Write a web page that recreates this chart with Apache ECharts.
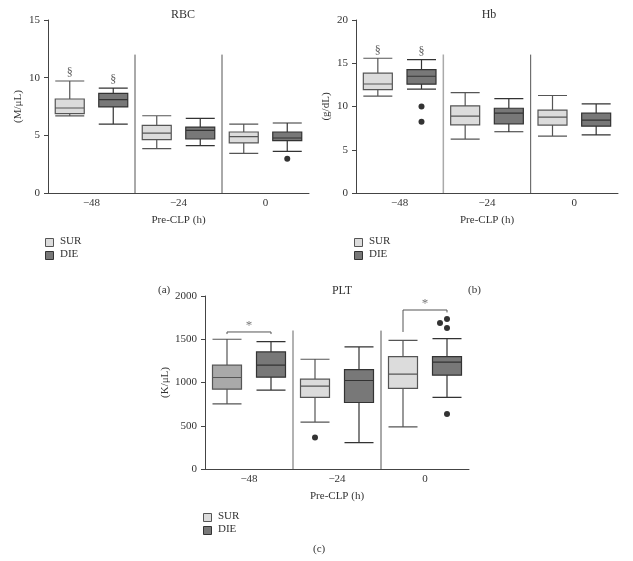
<!DOCTYPE html>
<html>
<head>
<meta charset="utf-8">
<script src="https://cdn.jsdelivr.net/npm/echarts@6/dist/echarts.min.js"></script>
<style>html,body{margin:0;padding:0;background:#fff}#c{width:633px;height:561px}</style>
</head>
<body>
<div id="c"></div>
<script>
// ---------- data ----------
const categories = ['\u221248', '\u221224', '0'];
const groups = ['SUR', 'DIE'];
// box stats: [min, Q1, median, Q3, max] per category
const rbcSUR = [[6.68, 6.88, 7.37, 8.15, 9.71], [3.84, 4.62, 5.20, 5.87, 6.70], [3.44, 4.34, 4.88, 5.29, 5.98]];
const rbcDIE = [[5.98, 7.46, 8.09, 8.64, 9.10], [4.10, 4.68, 5.43, 5.72, 6.47], [3.61, 4.54, 4.77, 5.29, 6.07]];
const rbcOutSUR = [[], [], []];
const rbcOutDIE = [[], [], [2.98]];
const hbSUR = [[11.19, 11.96, 12.60, 13.85, 15.58], [6.23, 7.88, 8.88, 10.08, 11.60], [6.58, 7.85, 8.77, 9.58, 11.27]];
const hbDIE = [[12.00, 12.58, 13.50, 14.27, 15.42], [7.08, 8.00, 9.23, 9.80, 10.92], [6.73, 7.73, 8.42, 9.23, 10.30]];
const hbOutSUR = [[], [], []];
const hbOutDIE = [[10.0, 8.23], [], []];
const pltSUR = [[754, 923, 1058, 1200, 1500], [542, 827, 958, 1038, 1269], [488, 931, 1096, 1300, 1488]];
const pltDIE = [[912, 1062, 1200, 1354, 1473], [304, 769, 1023, 1150, 1412], [827, 1085, 1235, 1300, 1508]];
const pltOutSUR = [[], [365], []];
const pltOutDIE = [[], [], [1735, 1688, 1631, 635]];
// "§" marks (value where the symbol sits) per group at -48
const rbcSection = [10.46, 9.83];
const hbSection = [16.46, 16.27];
// PLT significance brackets: [fromSlot, toSlot, level, leftEnd, rightEnd, starValue]
const pltBrackets = [[0, 1, 1584, 1560, 1560, 1660], [4, 5, 1838, 1584, 1810, 1912]];
// y axis ticks
const rbcTicks = [0, 5, 10, 15];
const hbTicks = [0, 5, 10, 15, 20];
const pltTicks = [0, 500, 1000, 1500, 2000];
// separator heights
const rbcSepTop = 12, hbSepTop = 16, pltSepTop = 1600;

// ---------- styles ----------
const FONT = 'Liberation Serif';
const TXT = '#333';
const fillSUR = '#dcdcdc', fillDIE = '#787878', fillSURmid = '#a9a9a9';
const panels = [
  {title: 'RBC', unit: '(M/\u03bcL)', sur: rbcSUR, die: rbcDIE, outS: rbcOutSUR, outD: rbcOutDIE, ticks: rbcTicks,
   sep: rbcSepTop, section: rbcSection, brackets: [], grid: {left: 48, top: 20, width: 261, height: 173},
   titleX: 178, titleY: 4, sepColors: ['#555', '#555'], surFirst: fillSUR, letter: '(a)', letterX: 158, letterY: 285,
   legX: 45, legY: 238, nameGap: 24},
  {title: 'Hb', unit: '(g/dL)', sur: hbSUR, die: hbDIE, outS: hbOutSUR, outD: hbOutDIE, ticks: hbTicks,
   sep: hbSepTop, section: hbSection, brackets: [], grid: {left: 356, top: 20, width: 262, height: 173},
   titleX: 484, titleY: 4, sepColors: ['#aaa', '#555'], surFirst: fillSUR, letter: '(b)', letterX: 468, letterY: 285,
   legX: 354, legY: 238, nameGap: 24},
  {title: 'PLT', unit: '(K/\u03bcL)', sur: pltSUR, die: pltDIE, outS: pltOutSUR, outD: pltOutDIE, ticks: pltTicks,
   sep: pltSepTop, section: null, brackets: pltBrackets, grid: {left: 205, top: 296, width: 264, height: 173},
   titleX: 337, titleY: 280, sepColors: ['#999', '#555'], surFirst: fillSURmid, letter: '(c)', letterX: 313, letterY: 544,
   legX: 203, legY: 513, nameGap: 30}
];

const grids = [], xAxes = [], yAxes = [], series = [], titles = [], graphics = [];

panels.forEach((p, g) => {
  grids.push(Object.assign({containLabel: false}, p.grid));
  const tmax = p.ticks[p.ticks.length - 1];
  const tint = p.ticks[1] - p.ticks[0];
  // visible category axis
  xAxes.push({
    type: 'category', gridIndex: g, data: categories, boundaryGap: true,
    axisLine: {lineStyle: {color: '#444', width: 1}}, axisTick: {show: false},
    axisLabel: {color: TXT, fontFamily: FONT, fontSize: 11, margin: 5},
    name: 'Pre-CLP (h)', nameLocation: 'middle', nameGap: 22,
    nameTextStyle: {color: TXT, fontFamily: FONT, fontSize: 11}
  });
  // hidden slot axis (6 boxes)
  const slots = [];
  categories.forEach(c => groups.forEach(s => slots.push(c + ' ' + s)));
  xAxes.push({type: 'category', gridIndex: g, data: slots, boundaryGap: true, show: false});
  // hidden value axis for annotations
  xAxes.push({type: 'value', gridIndex: g, min: 0, max: 6, show: false});
  yAxes.push({
    type: 'value', gridIndex: g, min: 0, max: tmax, interval: tint,
    splitLine: {show: false},
    axisLine: {show: true, lineStyle: {color: '#444', width: 1}},
    axisTick: {show: true, length: 4, lineStyle: {color: '#444'}},
    axisLabel: {color: TXT, fontFamily: FONT, fontSize: 11, margin: 8, formatter: v => String(v)},
    name: p.unit, nameLocation: 'middle', nameGap: p.nameGap, nameRotate: 90,
    nameTextStyle: {color: TXT, fontFamily: FONT, fontSize: 11}
  });
  const xi = g * 3;
  // boxes
  const boxData = [];
  categories.forEach((c, i) => {
    boxData.push({value: p.sur[i], itemStyle: {color: i === 0 ? p.surFirst : fillSUR, borderColor: '#555'}});
    boxData.push({value: p.die[i], itemStyle: {color: fillDIE, borderColor: '#333'}});
  });
  series.push({
    type: 'boxplot', xAxisIndex: xi + 1, yAxisIndex: g, boxWidth: [29, 29], data: boxData,
    itemStyle: {borderWidth: 1.2}, silent: true
  });
  // outliers
  const outData = [];
  const near = tmax * 0.025;
  categories.forEach((c, i) => {
    [p.outS[i], p.outD[i]].forEach((arr, k) => {
      const slot = i * 2 + k;
      const sorted = arr.slice().sort((a, b) => b - a);
      let lastCenter = null;
      sorted.forEach(v => {
        const item = {value: [slot, v]};
        if (lastCenter !== null && Math.abs(lastCenter - v) < near) {
          item.symbolOffset = [-7, 0];
        } else {
          lastCenter = v;
        }
        outData.push(item);
      });
    });
  });
  series.push({
    type: 'scatter', xAxisIndex: xi + 1, yAxisIndex: g, data: outData,
    symbol: 'circle', symbolSize: 6, itemStyle: {color: '#000'}, silent: true
  });
  // separators
  [2, 4].forEach((x, k) => {
    series.push({
      type: 'line', xAxisIndex: xi + 2, yAxisIndex: g, data: [[x, 0], [x, p.sep]],
      symbol: 'none', lineStyle: {color: p.sepColors[k], width: k === 0 && g > 0 ? 1.5 : 1}, silent: true
    });
  });
  // section marks
  if (p.section) {
    series.push({
      type: 'scatter', xAxisIndex: xi + 1, yAxisIndex: g,
      data: p.section.map((v, k) => [k, v]), symbolSize: 1, itemStyle: {color: 'transparent'},
      label: {show: true, position: 'inside', formatter: '\u00a7', color: TXT, fontFamily: FONT, fontSize: 12},
      silent: true
    });
  }
  // brackets
  p.brackets.forEach(b => {
    const x0 = b[0] + 0.5, x1 = b[1] + 0.5;
    series.push({
      type: 'line', xAxisIndex: xi + 2, yAxisIndex: g,
      data: [[x0, b[3]], [x0, b[2]], [x1, b[2]], [x1, b[4]]],
      symbol: 'none', lineStyle: {color: '#555', width: 1}, silent: true
    });
    series.push({
      type: 'scatter', xAxisIndex: xi + 2, yAxisIndex: g, data: [[(x0 + x1) / 2, b[5]]],
      symbolSize: 1, itemStyle: {color: 'transparent'},
      label: {show: true, position: 'inside', formatter: '*', color: '#555', fontFamily: FONT, fontSize: 13},
      silent: true
    });
  });
  titles.push({
    text: p.title, left: p.titleX, top: p.titleY, textAlign: 'center',
    textStyle: {color: TXT, fontFamily: FONT, fontSize: 12, fontWeight: 'normal'}
  });
  // legend + panel letter
  [[fillSUR, '#555'], [fillDIE, '#333']].forEach((c, k) => {
    graphics.push({type: 'rect', left: p.legX, top: p.legY + k * 13, shape: {width: 8, height: 8},
      style: {fill: c[0], stroke: c[1], lineWidth: 1}});
    graphics.push({type: 'text', left: p.legX + 15, top: p.legY + k * 13 - 2,
      style: {text: groups[k], fill: TXT, font: '11px "' + FONT + '"'}});
  });
  graphics.push({type: 'text', left: p.letterX, top: p.letterY,
    style: {text: p.letter, fill: TXT, font: '11px "' + FONT + '"'}});
});

const chart = echarts.init(document.getElementById('c'), null, {renderer: 'canvas'});
chart.setOption({
  animation: false,
  backgroundColor: '#fff',
  title: titles,
  grid: grids,
  xAxis: xAxes,
  yAxis: yAxes,
  series: series,
  graphic: graphics
});
</script>
</body>
</html>
